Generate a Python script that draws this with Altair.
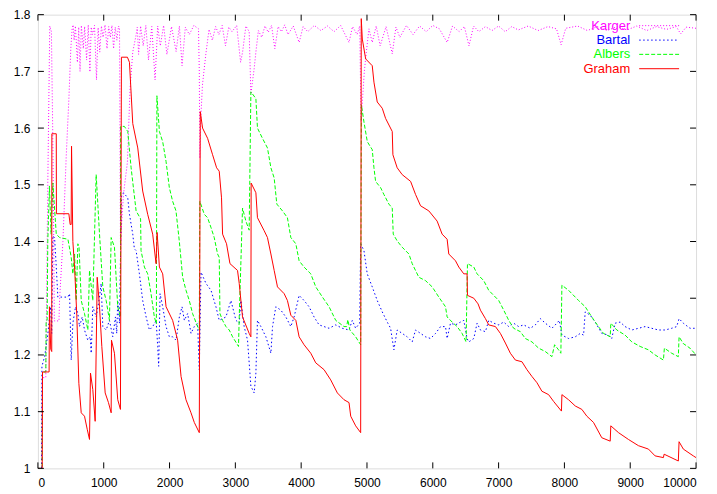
import altair as alt
import pandas as pd

# ---------------- data ----------------
graham_x = [0, 65, 70, 170, 175, 195, 210, 212, 279, 281, 470, 490, 505, 511, 531, 557, 591, 622, 658, 708,
            749, 784, 799, 834, 870, 901, 936, 971, 1022, 1072, 1113, 1118, 1163, 1213, 1254, 1269, 1360, 1391,
            1441, 1517, 1592, 1668, 1744, 1795, 1811, 1846, 1896, 1947, 2047, 2123, 2175, 2250, 2326, 2376,
            2452, 2467, 2502, 2578, 2654, 2715, 2755, 2790, 2806, 2866, 2918, 3033, 3059, 3109, 3210, 3236,
            3240, 3312, 3336, 3438, 3488, 3540, 3590, 3640, 3742, 3791, 3843, 3919, 3969, 4044, 4146, 4222,
            4348, 4449, 4550, 4651, 4727, 4753, 4828, 4904, 4913, 4929, 4980, 5080, 5106, 5156, 5232, 5283,
            5384, 5394, 5459, 5535, 5663, 5738, 5814, 5940, 6066, 6142, 6218, 6243, 6345, 6395, 6471, 6521,
            6527, 6623, 6688, 6724, 6800, 6850, 6952, 7027, 7103, 7179, 7255, 7355, 7431, 7507, 7583, 7658,
            7760, 7836, 7955, 7962, 8063, 8165, 8265, 8341, 8442, 8568, 8696, 8705, 8822, 8973, 9125, 9277,
            9378, 9504, 9515, 9731, 9742, 9807, 9959, 10000]
graham_y = [1.0, 1.0, 1.17, 1.17, 1.285, 1.21, 1.206, 1.59, 1.59, 1.449, 1.449, 1.43, 1.43, 1.568, 1.40, 1.355,
            1.27, 1.15, 1.098, 1.092, 1.069, 1.051, 1.168, 1.139, 1.083, 1.337, 1.285, 1.215, 1.133, 1.116,
            1.098, 1.226, 1.203, 1.121, 1.104, 1.725, 1.725, 1.716, 1.608, 1.565, 1.489, 1.448, 1.413, 1.361,
            1.416, 1.355, 1.343, 1.285, 1.261, 1.226, 1.162, 1.121, 1.098, 1.081, 1.063, 1.629, 1.60, 1.582,
            1.553, 1.53, 1.524, 1.477, 1.413, 1.396, 1.361, 1.349, 1.326, 1.267, 1.238, 1.232, 1.503, 1.486,
            1.442, 1.419, 1.407, 1.378, 1.349, 1.32, 1.308, 1.296, 1.27, 1.261, 1.232, 1.218, 1.203, 1.186,
            1.174, 1.156, 1.133, 1.121, 1.116, 1.092, 1.075, 1.063, 1.793, 1.757, 1.722, 1.71, 1.681, 1.646,
            1.635, 1.617, 1.594, 1.553, 1.53, 1.518, 1.506, 1.483, 1.463, 1.454, 1.436, 1.413, 1.404, 1.378,
            1.366, 1.355, 1.343, 1.343, 1.305, 1.30, 1.29, 1.279, 1.264, 1.253, 1.25, 1.238, 1.221, 1.203,
            1.191, 1.188, 1.174, 1.162, 1.151, 1.136, 1.13, 1.118, 1.101, 1.13, 1.121, 1.11, 1.104, 1.092,
            1.081, 1.054, 1.048, 1.075, 1.063, 1.051, 1.04, 1.034, 1.022, 1.019, 1.025, 1.013, 1.047, 1.034,
            1.022, 1.019]

albers_x = [0, 65, 70, 120, 125, 140, 150, 175, 200, 227, 279, 330, 456, 506, 531, 557, 582, 607, 625, 658,
            708, 759, 784, 834, 885, 936, 986, 1037, 1087, 1113, 1163, 1213, 1254, 1257, 1314, 1365, 1416,
            1492, 1560, 1567, 1618, 1668, 1719, 1769, 1800, 1808, 1846, 1896, 1947, 1997, 2047, 2098, 2148,
            2199, 2250, 2300, 2350, 2426, 2452, 2460, 2528, 2578, 2629, 2679, 2730, 2755, 2766, 2806, 2857,
            2907, 2958, 3048, 3059, 3109, 3160, 3210, 3236, 3312, 3336, 3412, 3488, 3540, 3590, 3630, 3716,
            3791, 3843, 3919, 3969, 4044, 4146, 4222, 4323, 4424, 4525, 4651, 4690, 4710, 4740, 4828, 4904,
            4915, 4954, 5005, 5080, 5106, 5131, 5207, 5257, 5333, 5384, 5399, 5459, 5535, 5637, 5687, 5788,
            5890, 5991, 6092, 6193, 6218, 6294, 6370, 6445, 6506, 6527, 6623, 6673, 6774, 6850, 6926, 7002,
            7078, 7154, 7229, 7331, 7406, 7507, 7608, 7710, 7810, 7851, 7911, 7946, 7962, 8063, 8165, 8215,
            8316, 8416, 8517, 8593, 8696, 8705, 8796, 8922, 9024, 9150, 9277, 9378, 9504, 9519, 9630, 9731,
            9742, 9807, 9908, 10000]
albers_y = [1.0, 1.0, 1.17, 1.17, 1.26, 1.261, 1.40, 1.498, 1.413, 1.503, 1.413, 1.407, 1.404, 1.372, 1.343,
            1.378, 1.296, 1.396, 1.39, 1.296, 1.273, 1.244, 1.349, 1.296, 1.518, 1.413, 1.32, 1.296, 1.261,
            1.407, 1.39, 1.285, 1.267, 1.603, 1.603, 1.594, 1.53, 1.454, 1.44, 1.384, 1.355, 1.343, 1.308,
            1.267, 1.255, 1.657, 1.594, 1.576, 1.541, 1.495, 1.471, 1.454, 1.401, 1.337, 1.314, 1.296, 1.273,
            1.25, 1.244, 1.471, 1.448, 1.442, 1.425, 1.407, 1.378, 1.372, 1.273, 1.261, 1.25, 1.244, 1.232,
            1.215, 1.267, 1.459, 1.436, 1.42, 1.664, 1.652, 1.60, 1.582, 1.565, 1.53, 1.512, 1.466, 1.454,
            1.442, 1.407, 1.396, 1.366, 1.355, 1.343, 1.32, 1.302, 1.285, 1.261, 1.25, 1.25, 1.262, 1.244,
            1.232, 1.218, 1.641, 1.611, 1.576, 1.562, 1.53, 1.506, 1.495, 1.483, 1.466, 1.459, 1.413, 1.401,
            1.39, 1.378, 1.361, 1.337, 1.331, 1.32, 1.302, 1.285, 1.267, 1.258, 1.25, 1.238, 1.223, 1.361,
            1.355, 1.343, 1.331, 1.314, 1.305, 1.296, 1.279, 1.261, 1.247, 1.241, 1.229, 1.223, 1.212, 1.206,
            1.197, 1.218, 1.209, 1.203, 1.323, 1.314, 1.302, 1.296, 1.285, 1.267, 1.25, 1.238, 1.232, 1.256,
            1.244, 1.235, 1.223, 1.215, 1.209, 1.2, 1.191, 1.212, 1.203, 1.197, 1.232, 1.22, 1.212, 1.2]

bartal_x = [0, 55, 61, 102, 152, 193, 210, 227, 253, 279, 303, 455, 481, 506, 531, 572, 607, 632, 673, 708,
            758, 795, 810, 834, 886, 936, 961, 986, 1037, 1087, 1137, 1178, 1198, 1213, 1239, 1269, 1300,
            1315, 1365, 1391, 1441, 1466, 1492, 1542, 1592, 1644, 1694, 1744, 1796, 1820, 1835, 1856, 1896,
            1947, 1997, 2047, 2099, 2149, 2190, 2225, 2275, 2326, 2376, 2426, 2452, 2478, 2554, 2630, 2705,
            2755, 2857, 2933, 3009, 3059, 3084, 3134, 3185, 3236, 3286, 3312, 3336, 3388, 3464, 3540, 3565,
            3615, 3691, 3767, 3843, 3893, 3969, 4044, 4120, 4196, 4272, 4348, 4424, 4525, 4625, 4727, 4777,
            4828, 4889, 4904, 4954, 5004, 5080, 5156, 5232, 5308, 5359, 5409, 5459, 5535, 5611, 5687, 5738,
            5814, 5890, 5966, 6042, 6118, 6193, 6218, 6269, 6345, 6421, 6471, 6521, 6547, 6623, 6673, 6724,
            6800, 6850, 6926, 7002, 7078, 7154, 7229, 7305, 7381, 7482, 7558, 7634, 7710, 7810, 7886, 7922,
            7962, 8063, 8165, 8241, 8291, 8316, 8392, 8468, 8568, 8669, 8719, 8771, 8847, 8922, 9024, 9125,
            9226, 9327, 9428, 9530, 9630, 9706, 9742, 9807, 9908, 10000]
bartal_y = [1.0, 1.0, 1.18, 1.197, 1.238, 1.285, 1.238, 1.41, 1.407, 1.355, 1.302, 1.302, 1.308, 1.191, 1.256,
            1.285, 1.273, 1.25, 1.267, 1.244, 1.226, 1.232, 1.203, 1.285, 1.267, 1.302, 1.326, 1.25, 1.244,
            1.261, 1.232, 1.267, 1.238, 1.296, 1.256, 1.48, 1.486, 1.484, 1.477, 1.448, 1.413, 1.387, 1.384,
            1.343, 1.296, 1.267, 1.244, 1.25, 1.261, 1.215, 1.18, 1.308, 1.285, 1.25, 1.232, 1.232, 1.226,
            1.267, 1.285, 1.261, 1.273, 1.238, 1.25, 1.256, 1.174, 1.346, 1.326, 1.314, 1.285, 1.261, 1.267,
            1.296, 1.261, 1.256, 1.296, 1.25, 1.226, 1.145, 1.133, 1.168, 1.261, 1.25, 1.232, 1.203, 1.25,
            1.285, 1.279, 1.267, 1.25, 1.267, 1.305, 1.296, 1.285, 1.267, 1.253, 1.25, 1.247, 1.253, 1.247,
            1.244, 1.261, 1.247, 1.256, 1.396, 1.384, 1.343, 1.32, 1.296, 1.276, 1.258, 1.247, 1.209, 1.244,
            1.238, 1.232, 1.223, 1.244, 1.238, 1.232, 1.229, 1.238, 1.25, 1.25, 1.229, 1.256, 1.253, 1.258,
            1.261, 1.229, 1.223, 1.229, 1.256, 1.244, 1.241, 1.261, 1.256, 1.253, 1.258, 1.25, 1.256, 1.25,
            1.253, 1.247, 1.253, 1.264, 1.256, 1.247, 1.256, 1.261, 1.235, 1.229, 1.232, 1.238, 1.235, 1.276,
            1.27, 1.258, 1.238, 1.235, 1.229, 1.256, 1.258, 1.25, 1.244, 1.247, 1.25, 1.247, 1.244, 1.244,
            1.247, 1.25, 1.264, 1.256, 1.247, 1.247]

karger_x = [0, 60, 65, 120, 150, 180, 205, 230, 250, 320, 330, 380, 430, 470, 500, 520, 535, 550, 570, 600,
            620, 640, 660, 690, 710, 740, 765, 790, 810, 830, 860, 890, 915, 940, 965, 990, 1020, 1050, 1075,
            1100, 1125, 1150, 1175, 1200, 1225, 1240, 1254, 1300, 1360, 1400, 1441, 1490, 1510, 1530, 1560,
            1600, 1640, 1680, 1730, 1780, 1820, 1860, 1910, 1960, 2030, 2100, 2150, 2190, 2240, 2300, 2370,
            2440, 2452, 2460, 2480, 2500, 2550, 2600, 2650, 2700, 2750, 2800, 2850, 2900, 2950, 3020, 3080,
            3110, 3160, 3210, 3236, 3286, 3312, 3350, 3400, 3450, 3500, 3550, 3600, 3650, 3700, 3750, 3800,
            3880, 3969, 4030, 4100, 4200, 4300, 4400, 4500, 4600, 4727, 4780, 4850, 4890, 4910, 4960, 4990,
            5030, 5080, 5140, 5200, 5290, 5384, 5440, 5500, 5600, 5700, 5800, 5900, 6000, 6100, 6218, 6300,
            6400, 6480, 6550, 6620, 6700, 6800, 6900, 7000, 7100, 7200, 7300, 7450, 7600, 7750, 7880, 7950,
            8020, 8200, 8350, 8500, 8650, 8800, 8950, 9100, 9250, 9400, 9550, 9700, 9766, 9850, 10000]
karger_y = [1.0, 1.0, 1.16, 1.16, 1.50, 1.78, 1.77, 1.55, 1.26, 1.26, 1.30, 1.40, 1.55, 1.65, 1.74, 1.775,
            1.782, 1.755, 1.78, 1.716, 1.778, 1.70, 1.781, 1.74, 1.779, 1.72, 1.782, 1.699, 1.778, 1.765,
            1.781, 1.685, 1.777, 1.734, 1.78, 1.76, 1.782, 1.74, 1.779, 1.76, 1.781, 1.74, 1.778, 1.755, 1.78,
            1.775, 1.40, 1.483, 1.54, 1.67, 1.734, 1.763, 1.778, 1.73, 1.78, 1.745, 1.781, 1.72, 1.779, 1.685,
            1.78, 1.745, 1.781, 1.73, 1.779, 1.735, 1.78, 1.71, 1.778, 1.765, 1.781, 1.775, 1.70, 1.547,
            1.629, 1.676, 1.729, 1.774, 1.755, 1.779, 1.765, 1.781, 1.745, 1.778, 1.77, 1.781, 1.716, 1.734,
            1.78, 1.77, 1.66, 1.705, 1.734, 1.772, 1.76, 1.78, 1.769, 1.781, 1.74, 1.779, 1.77, 1.782, 1.765,
            1.78, 1.751, 1.779, 1.77, 1.781, 1.772, 1.78, 1.77, 1.781, 1.751, 1.779, 1.765, 1.78, 1.611, 1.70,
            1.734, 1.775, 1.751, 1.78, 1.745, 1.779, 1.731, 1.778, 1.76, 1.781, 1.765, 1.78, 1.77, 1.781,
            1.775, 1.751, 1.78, 1.77, 1.779, 1.745, 1.78, 1.77, 1.779, 1.772, 1.78, 1.77, 1.779, 1.773, 1.78,
            1.772, 1.779, 1.775, 1.747, 1.776, 1.78, 1.772, 1.779, 1.772, 1.779, 1.773, 1.78, 1.772, 1.779,
            1.774, 1.779, 1.766, 1.778, 1.776]

series_names = ["Karger", "Bartal", "Albers", "Graham"]
series_colors = ["#ff00ff", "#0000ff", "#00ff00", "#ff0000"]

x_ticks = [0, 1000, 2000, 3000, 4000, 5000, 6000, 7000, 8000, 9000, 10000]
y_ticks = [1.0, 1.1, 1.2, 1.3, 1.4, 1.5, 1.6, 1.7, 1.8]

# ---------------- chart ----------------
W, H = 660, 455
FONT = "Liberation Sans"

xscale = alt.Scale(domain=[0, 10000], nice=False, zero=False)
yscale = alt.Scale(domain=[1.0, 1.8], nice=False, zero=False)
xaxis = alt.Axis(values=x_ticks, format="d", ticks=False, tickSize=0, domain=False, grid=False,
                 labelPadding=9, labelFontSize=12, labelFont=FONT, labelColor="black", title=None)
yaxis = alt.Axis(values=y_ticks, format=".1~f", ticks=False, tickSize=0, domain=False, grid=False,
                 labelPadding=8, labelFontSize=12, labelFont=FONT, labelColor="black", title=None)


def X():
    return alt.X("x:Q", scale=xscale, axis=xaxis)


def Y():
    return alt.Y("y:Q", scale=yscale, axis=yaxis)


def series_df(xs, ys):
    return pd.DataFrame({"x": xs, "y": ys, "i": list(range(len(xs)))})


dashes = {"Karger": [1, 2], "Bartal": [1.5, 2.5], "Albers": [4, 2], "Graham": None}
values = {"Karger": (karger_x, karger_y), "Bartal": (bartal_x, bartal_y),
          "Albers": (albers_x, albers_y), "Graham": (graham_x, graham_y)}

layers = []
for name, color in zip(series_names, series_colors):
    xs, ys = values[name]
    kw = dict(color=color, strokeWidth=1, clip=True)
    if dashes[name]:
        kw["strokeDash"] = dashes[name]
    layers.append(
        alt.Chart(series_df(xs, ys)).mark_line(**kw).encode(
            x=X(), y=Y(), order=alt.Order("i:Q"))
    )

# inward tick marks on all four sides (gnuplot style)
xt = pd.DataFrame({"x": x_ticks})
yt = pd.DataFrame({"y": y_ticks})
layers.append(alt.Chart(xt).mark_rule(color="black", strokeWidth=1).encode(
    x=X(), y=alt.value(H), y2=alt.value(H - 6)))
layers.append(alt.Chart(xt).mark_rule(color="black", strokeWidth=1).encode(
    x=X(), y=alt.value(0), y2=alt.value(6)))
layers.append(alt.Chart(yt).mark_rule(color="black", strokeWidth=1).encode(
    y=Y(), x=alt.value(0), x2=alt.value(6)))
layers.append(alt.Chart(yt).mark_rule(color="black", strokeWidth=1).encode(
    y=Y(), x=alt.value(W), x2=alt.value(W - 6)))

# legend (text right-aligned, sample line to its right)
legend_rows_y = [11, 25.5, 39.8, 54.2]
for name, color, ly in zip(series_names, series_colors, legend_rows_y):
    ld = pd.DataFrame({"name": [name]})
    layers.append(alt.Chart(ld).mark_text(align="right", baseline="middle", fontSize=13, font=FONT,
                                          color=color).encode(
        text="name:N", x=alt.value(594), y=alt.value(ly)))
    kw = dict(color=color, strokeWidth=1)
    if dashes[name]:
        kw["strokeDash"] = dashes[name]
    layers.append(alt.Chart(ld).mark_rule(**kw).encode(
        x=alt.value(603), x2=alt.value(643), y=alt.value(ly)))

chart = alt.layer(*layers).properties(
    width=W, height=H,
    autosize=alt.AutoSizeParams(type="none"),
    padding={"left": 30, "top": 6, "right": 13, "bottom": 20},
).configure_view(stroke="black", strokeWidth=1).configure(background="white")

chart.save("out.html", embed_options={"renderer": "svg", "actions": False})
